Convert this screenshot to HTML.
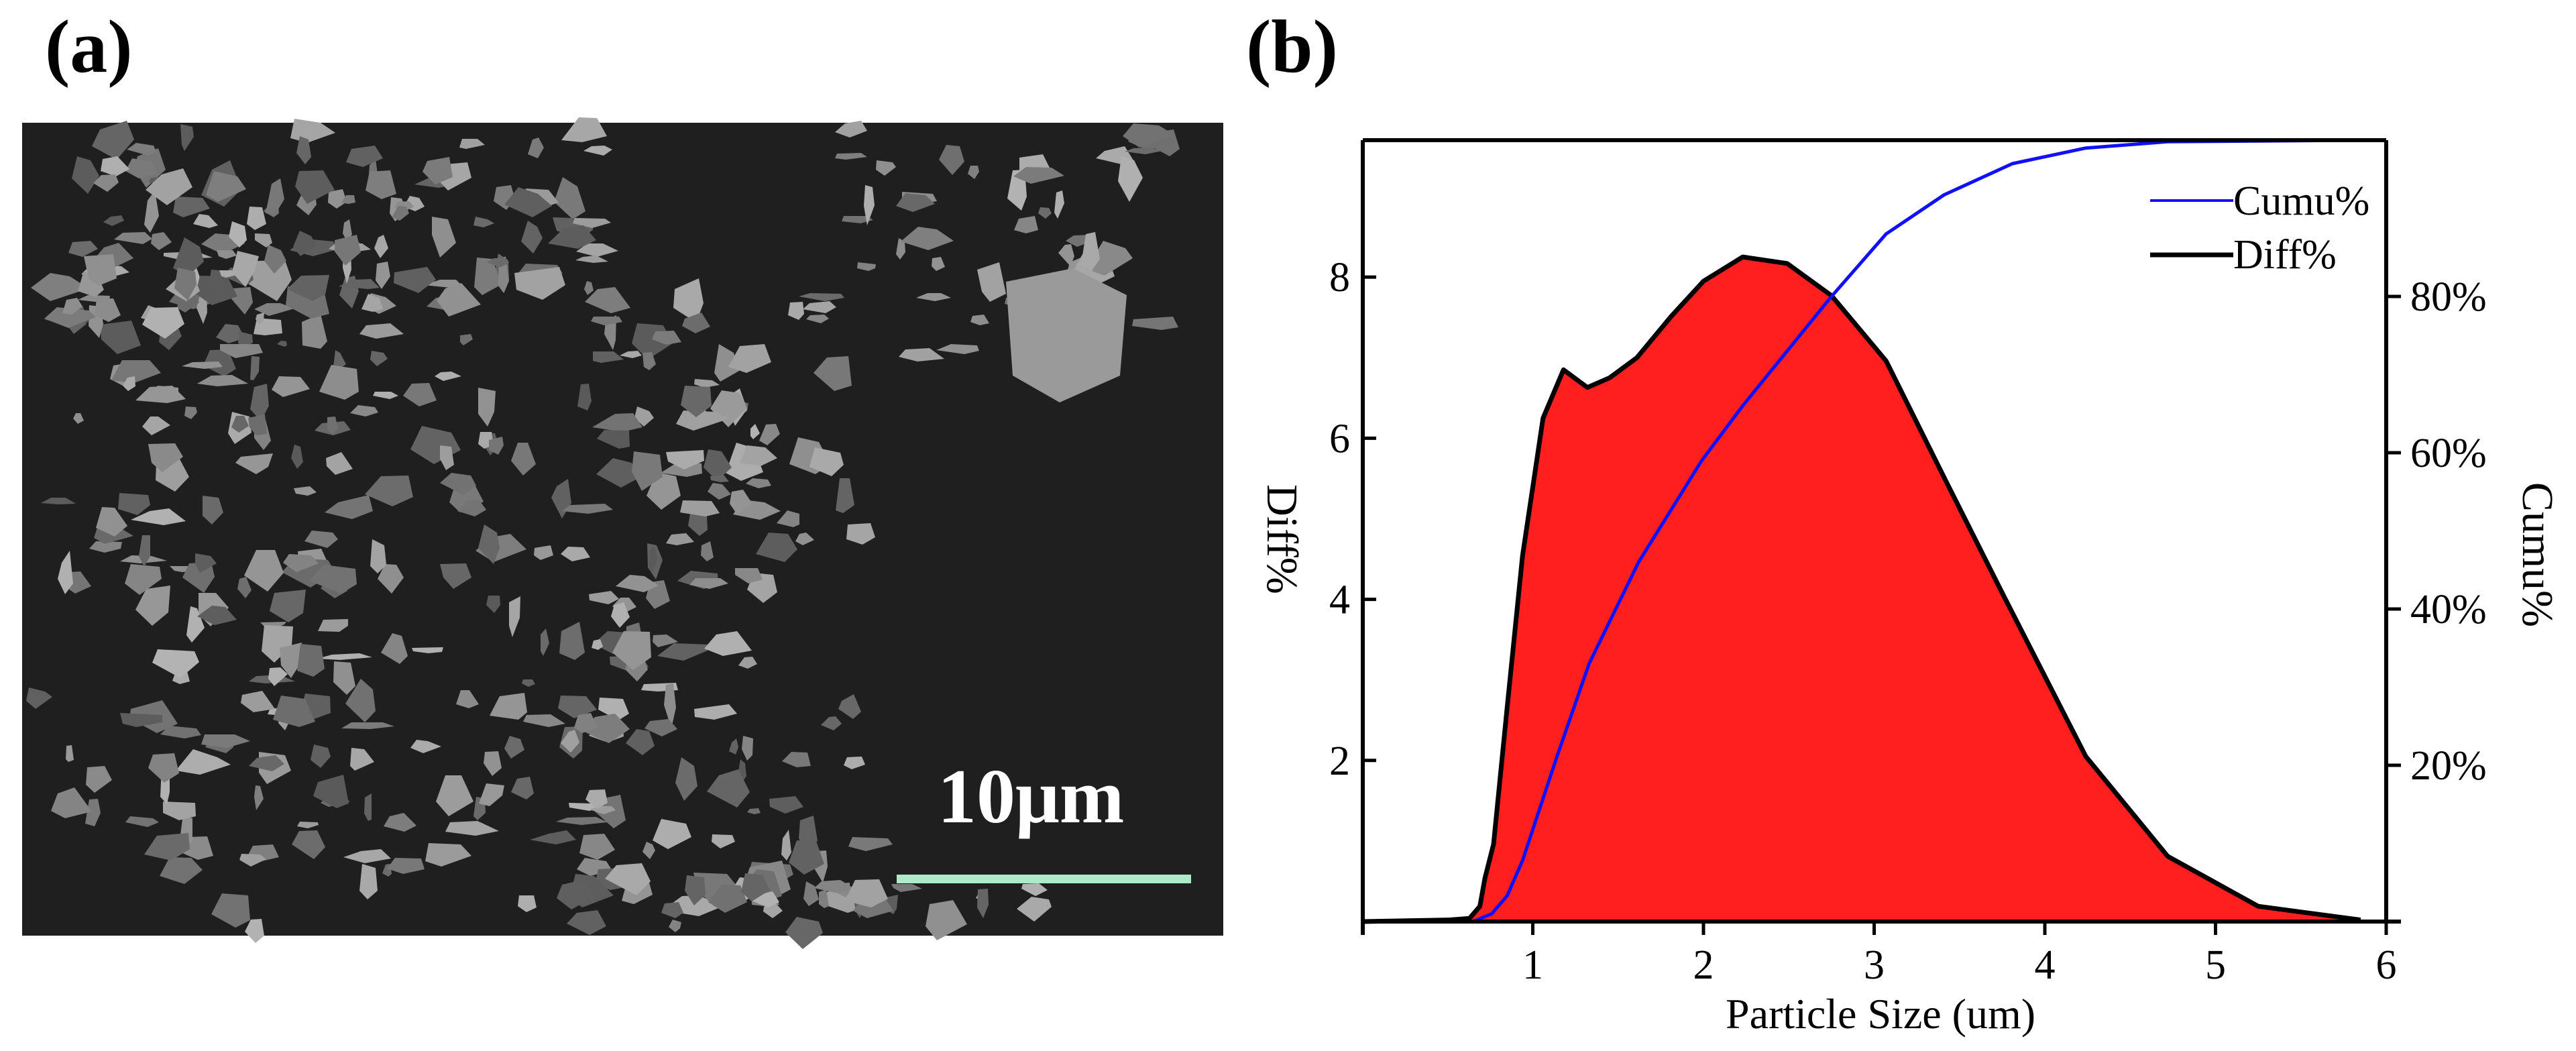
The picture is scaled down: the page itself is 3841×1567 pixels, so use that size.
<!DOCTYPE html>
<html><head><meta charset="utf-8"><style>
html,body{margin:0;padding:0;background:#fff;}
svg{display:block;font-family:"Liberation Serif",serif;}
</style></head><body>
<svg id="fig" width="3841" height="1567" viewBox="0 0 3841 1567" xmlns="http://www.w3.org/2000/svg">
<text x="67" y="107" font-size="112" font-weight="bold">(a)</text>
<g id="sem">
<rect x="33" y="183" width="1791" height="1212" fill="#1f1f1f"/>
<g id="particles"></g>
<rect x="1337" y="1304" width="439" height="13" fill="#aee9c9"/>
<text x="1398" y="1226" font-size="116" font-weight="bold" fill="#fff">10μm</text>
</g>
<text x="1858" y="107" font-size="112" font-weight="bold">(b)</text>
<g id="chart"></g>
</svg>
<script>
// ---------- SEM particles (decorative texture) ----------
(function(){
  var g=document.getElementById('particles');
  var s=12345;function r(){s=(s*1103515245+12345)%2147483648;return s/2147483648;}
  var clusters=[[150,1250,260,900],[300,700,220,300],[550,500,220,260],[700,1050,300,300],[900,800,250,260],[700,300,250,160],[1100,650,200,220],[1050,1250,250,200],[1520,330,260,220],[400,1100,200,300],[1300,1380,300,60],[250,350,150,150]];
  var ns='http://www.w3.org/2000/svg';
  clusters.forEach(function(c){
    for(var i=0;i<45;i++){
      var x=c[0]+(r()-0.5)*c[2]*2,y=c[1]+(r()-0.5)*c[3]*2;
      if(x<40||x>1815||y<190||y>1388)continue;
      var w=8+r()*38,h=6+r()*30,v=90+Math.floor(r()*90);
      var p=document.createElementNS(ns,'polygon');
      var pts=[];for(var k=0;k<5;k++){var a=k/5*6.283+r()*0.6;pts.push((x+Math.cos(a)*w*(0.6+r()*0.5)).toFixed(0)+','+(y+Math.sin(a)*h*(0.6+r()*0.5)).toFixed(0));}
      p.setAttribute('points',pts.join(' '));
      p.setAttribute('fill','rgb('+v+','+v+','+v+')');
      
      
      g.appendChild(p);
    }
  });
  var big=document.createElementNS(ns,'polygon');
  big.setAttribute('points','1500,420 1600,400 1680,440 1670,560 1580,600 1510,560');
  big.setAttribute('fill','#9a9a9a');
  
  
  g.appendChild(big);
})();
</script>
<script>
// ---------- Chart data ----------
var diffX=[0,0.51,0.63,0.69,0.72,0.77,0.85,0.94,1.06,1.18,1.32,1.45,1.61,1.81,2.00,2.23,2.49,2.75,3.07,3.42,3.76,4.24,4.72,5.25,5.85];
var diffY=[0,0.02,0.04,0.19,0.54,0.96,2.66,4.54,6.25,6.85,6.63,6.75,7.0,7.51,7.95,8.25,8.17,7.77,6.96,5.47,4.04,2.05,0.81,0.19,0.02];
var cumuX=[0.65,0.76,0.85,0.94,1.14,1.33,1.62,1.99,2.23,2.49,2.75,3.07,3.41,3.81,4.24,4.72,5.85];
var cumuY=[0,1,3.3,7.8,21,33,46,59,66,73,80,88,93,97,99,99.8,100];
var xTicks=[1,2,3,4,5,6];
var yTicks=[2,4,6,8];
var cTicks=[20,40,60,80];

var L=2032,R=3558,T=209,B=1374;
function sx(v){return 2031+v*254.5;}
function sy(v){return B-v*(B-T)/9.7;}
function sc(v){return B-v*(B-T)/100;}
var ns='http://www.w3.org/2000/svg';
var ch=document.getElementById('chart');
function el(tag,attrs,txt){var e=document.createElementNS(ns,tag);for(var k in attrs)e.setAttribute(k,attrs[k]);if(txt!==undefined)e.textContent=txt;ch.appendChild(e);return e;}

// area
var d='M'+sx(diffX[0])+','+sy(0);
for(var i=0;i<diffX.length;i++)d+=' L'+sx(diffX[i]).toFixed(1)+','+sy(diffY[i]).toFixed(1);
d+=' L'+sx(diffX[diffX.length-1])+','+sy(0)+' Z';
var area=el('path',{d:d,fill:'#ff1f1f',stroke:'none'});


var dl='';for(i=0;i<diffX.length;i++)dl+=(i?' L':'M')+sx(diffX[i]).toFixed(1)+','+sy(diffY[i]).toFixed(1);
var dline=el('path',{d:dl,fill:'none',stroke:'#000','stroke-width':7,'stroke-linejoin':'round'});


var cl='';for(i=0;i<cumuX.length;i++)cl+=(i?' L':'M')+sx(cumuX[i]).toFixed(1)+','+sc(cumuY[i]).toFixed(1);
var cline=el('path',{d:cl,fill:'none',stroke:'#1010ff','stroke-width':5,'stroke-linejoin':'round'});



// axes
var ax=el('path',{d:'M'+L+','+T+' L'+R+','+T+' M'+L+','+T+' L'+L+','+(B+20)+' M'+L+','+B+' L'+(R+22)+','+B+' M'+R+','+T+' L'+R+','+B,stroke:'#000','stroke-width':6,fill:'none'});


xTicks.forEach(function(v){
  var t=el('line',{x1:sx(v),x2:sx(v),y1:B,y2:B+20,stroke:'#000','stroke-width':5});
  
  
  var lb=el('text',{x:sx(v),y:B+85,'font-size':62,'text-anchor':'middle'},String(v));
  
  
});
yTicks.forEach(function(v){
  var t=el('line',{x1:L,x2:L+20,y1:sy(v),y2:sy(v),stroke:'#000','stroke-width':5});
  
  
  var lb=el('text',{x:2013,y:sy(v)+21,'font-size':62,'text-anchor':'end'},String(v));
  
  
});
cTicks.forEach(function(v){
  var t=el('line',{x1:R,x2:R+22,y1:sc(v),y2:sc(v),stroke:'#000','stroke-width':5});
  
  
  var lb=el('text',{x:3594,y:sc(v)+21,'font-size':62},v+'%');
  
  
});
var xt=el('text',{x:2804,y:1533,'font-size':64,'text-anchor':'middle'},'Particle Size (um)');


var yt=el('text',{x:0,y:0,'font-size':66,'text-anchor':'middle',transform:'translate(1890,804) rotate(90)'},'Diff%');


var ct=el('text',{x:0,y:0,'font-size':66,'text-anchor':'middle',transform:'translate(3762,827) rotate(90)'},'Cumu%');


// legend
var l1=el('line',{x1:3206,x2:3330,y1:299,y2:299,stroke:'#1010ff','stroke-width':4});


var t1=el('text',{x:3330,y:320,'font-size':62},'Cumu%');


var l2=el('line',{x1:3206,x2:3330,y1:380,y2:380,stroke:'#000','stroke-width':7});


var t2=el('text',{x:3330,y:400,'font-size':62},'Diff%');


</script>
</body></html>
